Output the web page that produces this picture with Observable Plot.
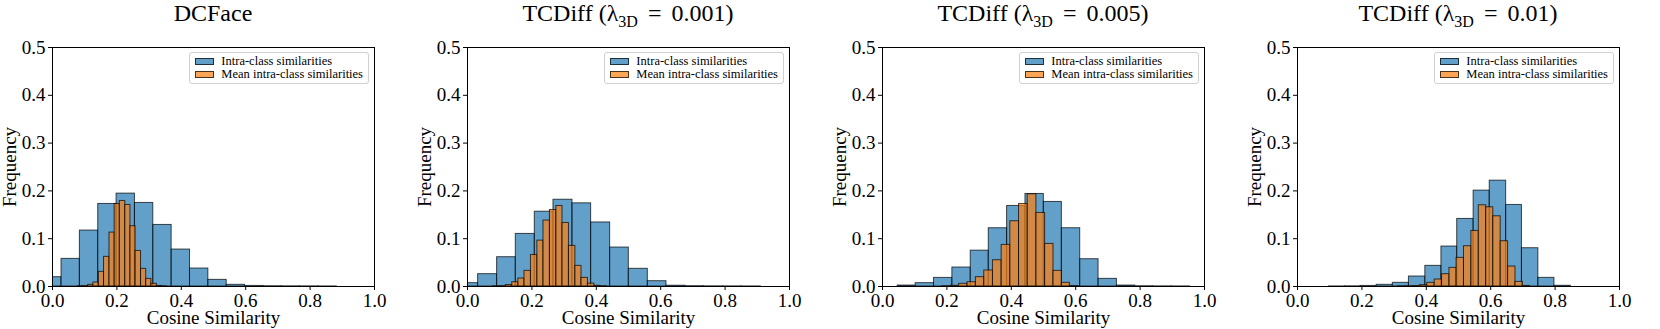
<!DOCTYPE html>
<html><head><meta charset="utf-8">
<script src="https://cdn.jsdelivr.net/npm/d3@7"></script>
<script src="https://cdn.jsdelivr.net/npm/@observablehq/plot@0.6"></script>
<style>
body{margin:0;background:#fff;}
#root{position:relative;width:1660px;height:329px;overflow:hidden;font-family:"Liberation Serif","Tinos","DejaVu Serif",serif;color:#000;}
.panel{position:absolute;top:0;width:404px;height:329px;}
.panel svg{position:absolute;left:0;top:0;overflow:visible;}
.title{position:absolute;top:1px;left:52px;width:322px;font-size:24px;line-height:24px;white-space:nowrap;text-align:center;}
.title sub{font-size:16px;vertical-align:-6px;line-height:0;}
.title .eq{margin:0 0.42em;}
.legend{position:absolute;top:52px;right:35px;border:1px solid #d0d0d0;border-radius:3px;background:rgba(255,255,255,0.8);padding:2px 5px 2px 5px;font-size:12.5px;line-height:13px;}
.legend .row{display:flex;align-items:center;white-space:nowrap;}
.legend .sw{width:17px;height:5px;border:1px solid rgba(0,0,0,0.7);margin-right:7px;flex:none;}
</style>
</head><body>
<div id="root"></div>
<script>
// ---- data ----
const panelTitles = ["DCFace", "TCDiff (λ|3D|0.001)", "TCDiff (λ|3D|0.005)", "TCDiff (λ|3D|0.01)"];
const seriesNames = ["Intra-class similarities", "Mean intra-class similarities"];
const xLabel = "Cosine Similarity";
const yLabel = "Frequency";
const xTicks = [0.0, 0.2, 0.4, 0.6, 0.8, 1.0];
const yTicks = [0.0, 0.1, 0.2, 0.3, 0.4, 0.5];

// DCFace
const blueEdges1 = [-0.029, 0.028, 0.085, 0.142, 0.199, 0.256, 0.313, 0.370, 0.427, 0.484, 0.541, 0.598, 0.655, 0.712, 0.769, 0.826, 0.883];
const blueFreq1  = [0.0195, 0.0578, 0.117, 0.1727, 0.1943, 0.1748, 0.1288, 0.0773, 0.0376, 0.0139, 0.0035, 0.0012, 0.0006, 0.0004, 0.0003, 0.0002];
const orangeEdges1 = [0.079, 0.095, 0.111, 0.127, 0.144, 0.160, 0.177, 0.193, 0.209, 0.226, 0.242, 0.258, 0.275, 0.291, 0.307, 0.324, 0.340, 0.356];
const orangeFreq1  = [0.0005, 0.001, 0.0035, 0.0084, 0.0306, 0.062, 0.1128, 0.1727, 0.179, 0.1706, 0.126, 0.0745, 0.0369, 0.016, 0.0056, 0.0012, 0.0003];

// TCDiff 0.001
const blueEdges2 = [-0.025, 0.033, 0.092, 0.150, 0.209, 0.267, 0.326, 0.384, 0.443, 0.501, 0.560, 0.618, 0.677, 0.735, 0.794, 0.852, 0.911];
const blueFreq2  = [0.007, 0.0258, 0.0613, 0.110, 0.1565, 0.1815, 0.174, 0.134, 0.0815, 0.037, 0.0111, 0.0016, 0.0007, 0.0004, 0.0003, 0.0002];
const orangeEdges2 = [0.080, 0.100, 0.119, 0.139, 0.158, 0.177, 0.197, 0.217, 0.236, 0.256, 0.276, 0.295, 0.315, 0.335, 0.354, 0.374, 0.394, 0.413, 0.433];
const orangeFreq2  = [0.0003, 0.0008, 0.003, 0.009, 0.0167, 0.0327, 0.066, 0.096, 0.138, 0.160, 0.1685, 0.133, 0.085, 0.0432, 0.018, 0.006, 0.0015, 0.0004];

// TCDiff 0.005
const blueEdges3 = [0.047, 0.103, 0.160, 0.217, 0.274, 0.330, 0.387, 0.444, 0.501, 0.557, 0.614, 0.671, 0.728, 0.785, 0.841, 0.898, 0.955];
const blueFreq3  = [0.002, 0.007, 0.018, 0.0397, 0.075, 0.1219, 0.1685, 0.1936, 0.1769, 0.1219, 0.0571, 0.016, 0.002, 0.0006, 0.0003, 0.0002];
const orangeEdges3 = [0.185, 0.212, 0.238, 0.264, 0.290, 0.316, 0.343, 0.370, 0.397, 0.424, 0.451, 0.478, 0.505, 0.531, 0.557, 0.582, 0.609];
const orangeFreq3  = [0.0005, 0.0015, 0.0056, 0.009, 0.0195, 0.0334, 0.055, 0.087, 0.1365, 0.1727, 0.1929, 0.1539, 0.0891, 0.0327, 0.0077, 0.001];

// TCDiff 0.01
const blueEdges4 = [0.098, 0.148, 0.196, 0.246, 0.296, 0.346, 0.397, 0.447, 0.496, 0.547, 0.597, 0.648, 0.697, 0.748, 0.798, 0.849];
const blueFreq4  = [0.0002, 0.0004, 0.0012, 0.0035, 0.0077, 0.0209, 0.0432, 0.0836, 0.1414, 0.2006, 0.2214, 0.1706, 0.0801, 0.0181, 0.0015];
const orangeEdges4 = [0.312, 0.335, 0.358, 0.380, 0.403, 0.426, 0.449, 0.472, 0.494, 0.517, 0.540, 0.563, 0.586, 0.608, 0.631, 0.654, 0.677, 0.700, 0.722];
const orangeFreq4  = [0.0002, 0.0005, 0.001, 0.0028, 0.0077, 0.0146, 0.0258, 0.039, 0.0599, 0.0843, 0.1163, 0.1699, 0.1657, 0.1469, 0.0947, 0.0418, 0.0097, 0.0012];

const blueColor = "#1f77b4";
const orangeColor = "#ff7f0e";

const panels = [
  {title: panelTitles[0], be: blueEdges1, bf: blueFreq1, oe: orangeEdges1, of: orangeFreq1},
  {title: panelTitles[1], be: blueEdges2, bf: blueFreq2, oe: orangeEdges2, of: orangeFreq2},
  {title: panelTitles[2], be: blueEdges3, bf: blueFreq3, oe: orangeEdges3, of: orangeFreq3},
  {title: panelTitles[3], be: blueEdges4, bf: blueFreq4, oe: orangeEdges4, of: orangeFreq4}
];

const FONT = '"Liberation Serif","Tinos","DejaVu Serif",serif';
const fmt = d3.format(".1f");
function bins(edges, freq){ return freq.map((v,i)=>({x1: edges[i], x2: edges[i+1], y1: 0, y2: v})); }

const root = document.getElementById("root");
panels.forEach((p, k) => {
  const div = document.createElement("div");
  div.className = "panel";
  div.style.left = (k*415) + "px";
  const svg = Plot.plot({
    width: 404, height: 329,
    marginLeft: 52, marginRight: 30, marginTop: 47, marginBottom: 43,
    style: {fontFamily: FONT, fontSize: "19px", color: "black", background: "transparent", overflow: "visible"},
    x: {domain: [0, 1]},
    y: {domain: [0, 0.5]},
    marks: [
      Plot.rect(bins(p.be, p.bf), {x1: "x1", x2: "x2", y1: "y1", y2: "y2", fill: blueColor, fillOpacity: 0.7, stroke: "black", strokeOpacity: 0.7, strokeWidth: 1, inset: 0, clip: true}),
      Plot.rect(bins(p.oe, p.of), {x1: "x1", x2: "x2", y1: "y1", y2: "y2", fill: orangeColor, fillOpacity: 0.7, stroke: "black", strokeOpacity: 0.7, strokeWidth: 1, inset: 0, clip: true}),
      Plot.frame({stroke: "black", strokeWidth: 1}),
      Plot.axisX({ticks: xTicks, tickFormat: fmt, tickSize: 4, tickPadding: 3, label: null, fontSize: 19, fontFamily: FONT}),
      Plot.axisY({ticks: yTicks, tickFormat: fmt, tickSize: 4, tickPadding: 3, label: null, fontSize: 19, fontFamily: FONT}),
      Plot.text([xLabel], {text: d => d, frameAnchor: "bottom", lineAnchor: "middle", textAnchor: "middle", dy: 31, fontSize: 19, fontFamily: FONT}),
      Plot.text([yLabel], {text: d => d, frameAnchor: "left", lineAnchor: "middle", textAnchor: "middle", dx: -43, rotate: -90, fontSize: 19, fontFamily: FONT})
    ]
  });
  div.appendChild(svg);

  const t = document.createElement("div");
  t.className = "title";
  const parts = p.title.split("|");
  if (parts.length === 1) t.textContent = parts[0];
  else t.innerHTML = parts[0] + "<sub>" + parts[1] + "</sub><span class='eq'>=</span>" + parts[2];
  div.appendChild(t);

  const lg = document.createElement("div");
  lg.className = "legend";
  [[seriesNames[0], "rgba(31,119,180,0.7)"], [seriesNames[1], "rgba(255,127,14,0.7)"]].forEach(([name, c]) => {
    const r = document.createElement("div");
    r.className = "row";
    const sw = document.createElement("span");
    sw.className = "sw"; sw.style.background = c;
    const tx = document.createElement("span");
    tx.textContent = name;
    r.appendChild(sw); r.appendChild(tx);
    lg.appendChild(r);
  });
  div.appendChild(lg);
  root.appendChild(div);
});
</script>
</body></html>
